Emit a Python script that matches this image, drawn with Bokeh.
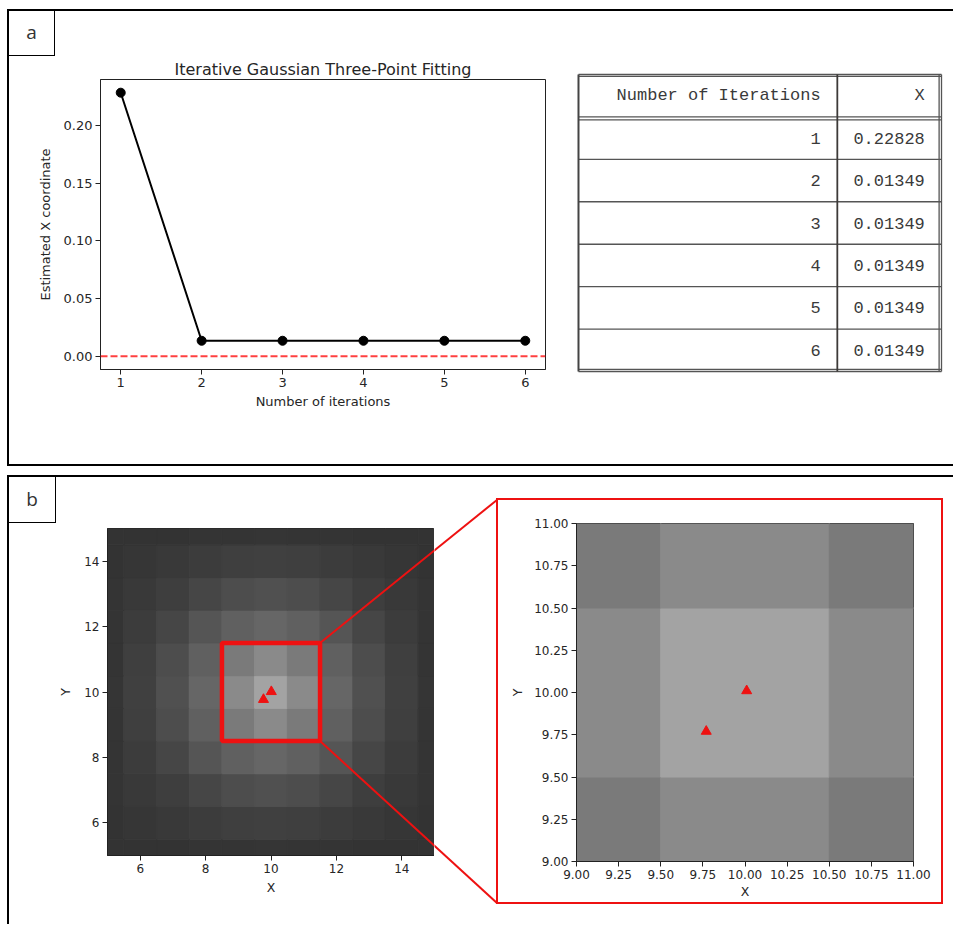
from bokeh.plotting import figure
from bokeh.layouts import row, column
from bokeh.models import (Range1d, FixedTicker, PrintfTickFormatter, Span, Div, Spacer,
                          ColumnDataSource, LinearColorMapper)
from bokeh.transform import transform
from bokeh.embed import file_html
from bokeh.resources import INLINE
from bokeh.core.properties import value

# ------------------------------------------------------------------ data
iterations = [1, 2, 3, 4, 5, 6]
x_estimates = [0.22828, 0.01349, 0.01349, 0.01349, 0.01349, 0.01349]
true_x = 0.0
y_ticks_a = [0.00, 0.05, 0.10, 0.15, 0.20]
table_headers = ["Number of Iterations", "X"]

grid_x = [5, 6, 7, 8, 9, 10, 11, 12, 13, 14, 15]
grid_y = [5, 6, 7, 8, 9, 10, 11, 12, 13, 14, 15]
# pixel intensity (0-255), rows from y=5 (bottom) to y=15 (top)
intensity = [
    [51, 51, 51, 52, 52, 53, 52, 52, 51, 51, 51],
    [51, 54, 57, 60, 63, 64, 63, 60, 57, 54, 51],
    [52, 57, 62, 70, 77, 80, 77, 70, 62, 57, 52],
    [52, 60, 70, 85, 96, 102, 96, 85, 70, 60, 52],
    [52, 63, 77, 96, 122, 138, 122, 96, 77, 63, 52],
    [53, 64, 80, 102, 138, 163, 138, 102, 80, 64, 53],
    [52, 63, 77, 96, 122, 138, 122, 96, 77, 63, 52],
    [52, 60, 70, 85, 96, 102, 96, 85, 70, 60, 52],
    [52, 57, 62, 70, 77, 80, 77, 70, 62, 57, 52],
    [51, 54, 57, 60, 63, 64, 63, 60, 57, 54, 51],
    [51, 51, 51, 52, 52, 53, 52, 52, 51, 51, 51],
]
est_x = [10.01, 9.77]
est_y = [10.01, 9.77]
zoom_box = [8.5, 11.5]          # lower / upper bound of the highlighted region
full_ticks = [6, 8, 10, 12, 14]
zoom_ticks = [9.00, 9.25, 9.50, 9.75, 10.00, 10.25, 10.50, 10.75, 11.00]

# ------------------------------------------------------------------ style helpers
SANS = "DejaVu Sans"
MONO = "Liberation Mono"
TXT = "#262626"
RED = "#ee1111"
gray256 = ["#%02x%02x%02x" % (i, i, i) for i in range(256)]


def bar(w, h, color):
    return Div(width=w, height=h, margin=0, text="", styles={"background-color": color})


def gap(w, h):
    return Spacer(width=w, height=h, margin=0)


def label_box(letter, w, h):
    html = ('<div style="width:%dpx;height:%dpx;box-sizing:border-box;'
            'border-right:1.5px solid #000;border-bottom:1.5px solid #000;'
            'display:flex;align-items:center;justify-content:center;'
            'font-family:\'Open Sans\';font-size:19px;color:#333;">%s</div>' % (w, h, letter))
    return Div(width=w, height=h, margin=0, text=html)


def style_axes(p, tick_px, label_px, tick_len):
    p.axis.major_label_text_font = SANS
    p.axis.major_label_text_font_size = tick_px
    p.axis.major_label_text_color = TXT
    p.axis.axis_label_text_font = SANS
    p.axis.axis_label_text_font_size = label_px
    p.axis.axis_label_text_font_style = "normal"
    p.axis.axis_label_text_color = TXT
    p.axis.major_tick_in = 0
    p.axis.major_tick_out = tick_len
    p.axis.minor_tick_out = 0
    p.axis.minor_tick_in = 0
    p.axis.axis_line_color = "#222222"
    p.axis.major_tick_line_color = "#222222"
    p.axis.major_label_standoff = 3
    p.axis.axis_label_standoff = 4
    p.xgrid.visible = False
    p.ygrid.visible = False
    p.outline_line_color = "#222222"
    p.outline_line_alpha = 1


# ------------------------------------------------------------------ panel a : line chart
p1 = figure(frame_width=445, frame_height=290, min_border_left=91, min_border_right=25,
            min_border_top=23, min_border_bottom=95,
            x_range=Range1d(0.75, 6.25), y_range=Range1d(-0.0114, 0.2397),
            title="Iterative Gaussian Three-Point Fitting",
            output_backend="svg", toolbar_location=None)
p1.title.text_font = SANS
p1.title.text_font_size = "16px"
p1.title.text_font_style = "normal"
p1.title.text_color = TXT
p1.title.align = "center"
p1.title.standoff = 2
style_axes(p1, "13px", "13px", 5)
p1.xaxis.axis_label = "Number of iterations"
p1.yaxis.axis_label = "Estimated X coordinate"
p1.xaxis.ticker = FixedTicker(ticks=iterations)
p1.xaxis.formatter = PrintfTickFormatter(format="%d")
p1.yaxis.ticker = FixedTicker(ticks=y_ticks_a)
p1.yaxis.formatter = PrintfTickFormatter(format="%.2f")
p1.yaxis.axis_label_standoff = 8

p1.add_layout(Span(location=true_x, dimension="width", line_color="red", line_alpha=0.75,
                   line_dash="7 3", line_width=2))
p1.line(iterations, x_estimates, line_color="black", line_width=2)
p1.scatter(iterations, x_estimates, size=9, color="black")

# ------------------------------------------------------------------ panel a : table
n_rows = len(iterations)
pad_x = 0.011
pad_y = 0.094
p2 = figure(frame_width=371, frame_height=305, min_border_left=4, min_border_right=8,
            min_border_top=59, min_border_bottom=89,
            x_range=Range1d(-pad_x, 1 + pad_x),
            y_range=Range1d(n_rows + 0.5 + pad_y, -0.5 - pad_y),
            x_axis_location=None, y_axis_location=None,
            output_backend="svg", toolbar_location=None)
p2.grid.visible = False
p2.outline_line_color = None

col_div = 0.713
col1_right = 0.667
col2_right = 0.954
dbl = 0.07

row_pos = list(range(1, n_rows + 1))
h_y = ([-0.5, -0.5 + 0.045] + [k + 0.5 for k in range(n_rows)] + [0.5 + dbl]
       + [n_rows + 0.5, n_rows + 0.5 - 0.05])
p2.segment(x0=[0] * len(h_y), x1=[1] * len(h_y), y0=h_y, y1=h_y,
           line_color="#555555", line_width=1.4)
p2.segment(x0=[0], x1=[0], y0=[-0.5], y1=[n_rows + 0.5], line_color="#444444", line_width=2)
p2.segment(x0=[1, 1 - 0.0066], x1=[1, 1 - 0.0066], y0=[-0.5, -0.5], y1=[n_rows + 0.5] * 2,
           line_color="#555555", line_width=1.3)
p2.segment(x0=[col_div], x1=[col_div], y0=[-0.5], y1=[n_rows + 0.5],
           line_color="#3d3a38", line_width=1.8)

table_font = dict(text_align="right", text_baseline="middle", text_font=value(MONO),
                  text_font_size="17px", text_color="#3a3a3a")
p2.text(x=[col1_right, col2_right], y=[0, 0], text=table_headers, **table_font)
p2.text(x=[col1_right] * n_rows, y=row_pos, text=[str(i) for i in iterations], **table_font)
p2.text(x=[col2_right] * n_rows, y=row_pos, text=["%.5f" % v for v in x_estimates], **table_font)

# ------------------------------------------------------------------ panel b : heatmaps
cells = dict(x=[], y=[], v=[])
for j, yy in enumerate(grid_y):
    for i, xx in enumerate(grid_x):
        cells["x"].append(xx)
        cells["y"].append(yy)
        cells["v"].append(intensity[j][i])
src = ColumnDataSource(cells)
mapper = LinearColorMapper(palette=gray256, low=0, high=255)

# page geometry of panel b (pixels)
PB_TOP = 477                  # top of panel b content
P3_LEFT, P3_TOP = 9, 523      # canvas origin of the full-view heatmap
L_FW, L_FH, L_ML, L_MT, L_MR, L_MB = 327, 327, 98, 5, 0, 69
GAP_L, GAP_R = P3_LEFT + L_ML + L_FW, 496
RF_L, RF_T, RF_B = 497, 499, 903          # red frame left / top / bottom (line centres)
PB_H = 447

L_X0, L_X1 = grid_x[0], grid_x[-1]
L_Y0, L_Y1 = grid_y[0], grid_y[-1]
ux = L_FW / (L_X1 - L_X0)
uy = L_FH / (L_Y1 - L_Y0)
fx0, fy0 = P3_LEFT + L_ML, P3_TOP + L_MT


def data_to_page(x, y):
    return fx0 + (x - L_X0) * ux, fy0 + (L_Y1 - y) * uy


def page_to_data(px, py):
    return L_X0 + (px - fx0) / ux, L_Y1 - (py - fy0) / uy


p3 = figure(frame_width=L_FW, frame_height=L_FH, min_border_left=L_ML, min_border_right=L_MR,
            min_border_top=L_MT, min_border_bottom=L_MB,
            x_range=Range1d(L_X0, L_X1), y_range=Range1d(L_Y0, L_Y1),
            output_backend="svg", toolbar_location=None)
style_axes(p3, "12px", "12.5px", 5)
p3.xaxis.axis_label = "X"
p3.yaxis.axis_label = "Y"
p3.xaxis.ticker = FixedTicker(ticks=full_ticks)
p3.yaxis.ticker = FixedTicker(ticks=full_ticks)
p3.axis.formatter = PrintfTickFormatter(format="%d")
p3.yaxis.axis_label_standoff = 8
p3.rect("x", "y", width=1, height=1, source=src, fill_color=transform("v", mapper),
        line_color=transform("v", mapper), line_width=1)
p3.quad(left=[zoom_box[0]], right=[zoom_box[1]], bottom=[zoom_box[0]], top=[zoom_box[1]],
        fill_color=None, line_color=RED, line_width=4.5)
p3.scatter(est_x, est_y, marker="triangle", size=10, color=RED)

# connector lines: box corners -> red frame corners
c_top = (zoom_box[1], zoom_box[1])
c_bot = (zoom_box[1], zoom_box[0])
t_top = page_to_data(RF_L, RF_T)
t_bot = page_to_data(RF_L, RF_B)
p3.segment(x0=[c_top[0], c_bot[0]], y0=[c_top[1], c_bot[1]],
           x1=[t_top[0], t_bot[0]], y1=[t_top[1], t_bot[1]], line_color=RED, line_width=2)

# continuation of the connector lines in the gap between both panels
pg = figure(frame_width=GAP_R - GAP_L, frame_height=PB_H, min_border=0,
            min_border_left=0, min_border_right=0, min_border_top=0, min_border_bottom=0,
            x_range=Range1d(GAP_L, GAP_R), y_range=Range1d(PB_TOP + PB_H, PB_TOP),
            x_axis_location=None, y_axis_location=None,
            output_backend="svg", toolbar_location=None)
pg.grid.visible = False
pg.outline_line_color = None
pc_top = data_to_page(*c_top)
pc_bot = data_to_page(*c_bot)
pg.segment(x0=[pc_top[0], pc_bot[0]], y0=[pc_top[1], pc_bot[1]],
           x1=[RF_L, RF_L], y1=[RF_T, RF_B], line_color=RED, line_width=2)

p4 = figure(frame_width=337, frame_height=338, min_border_left=78, min_border_right=28,
            min_border_top=23, min_border_bottom=41,
            x_range=Range1d(zoom_ticks[0], zoom_ticks[-1]),
            y_range=Range1d(zoom_ticks[0], zoom_ticks[-1]),
            output_backend="svg", toolbar_location=None)
style_axes(p4, "12px", "12.5px", 5)
p4.xaxis.axis_label = "X"
p4.yaxis.axis_label = "Y"
p4.xaxis.ticker = FixedTicker(ticks=zoom_ticks)
p4.yaxis.ticker = FixedTicker(ticks=zoom_ticks)
p4.axis.formatter = PrintfTickFormatter(format="%.2f")
p4.xaxis.axis_label_standoff = 2
p4.yaxis.axis_label_standoff = 6
p4.rect("x", "y", width=1, height=1, source=src, fill_color=transform("v", mapper),
        line_color=transform("v", mapper), line_width=1)
p4.scatter(est_x, est_y, marker="triangle", size=10, color=RED)

# ------------------------------------------------------------------ page assembly
K = "#000000"
panel_a = column(
    row(gap(7, 2), bar(946, 2, K)),
    row(gap(7, 453), bar(2, 453, K), column(label_box("a", 46, 45), p1), p2),
    row(gap(7, 2), bar(946, 2, K)),
)
zoom_col = column(
    gap(447, RF_T - 1 - PB_TOP),
    bar(447, 2, RED),
    row(bar(2, 402, RED), p4, bar(2, 402, RED)),
    bar(447, 2, RED),
)
panel_b = column(
    row(gap(7, 2), bar(946, 2, K)),
    row(gap(7, PB_H), bar(2, PB_H, K), column(label_box("b", 47, 46), p3), pg, zoom_col),
)
layout = column(gap(940, 9), panel_a, gap(940, 9), panel_b)

open("out.html", "w").write(file_html(layout, INLINE))
